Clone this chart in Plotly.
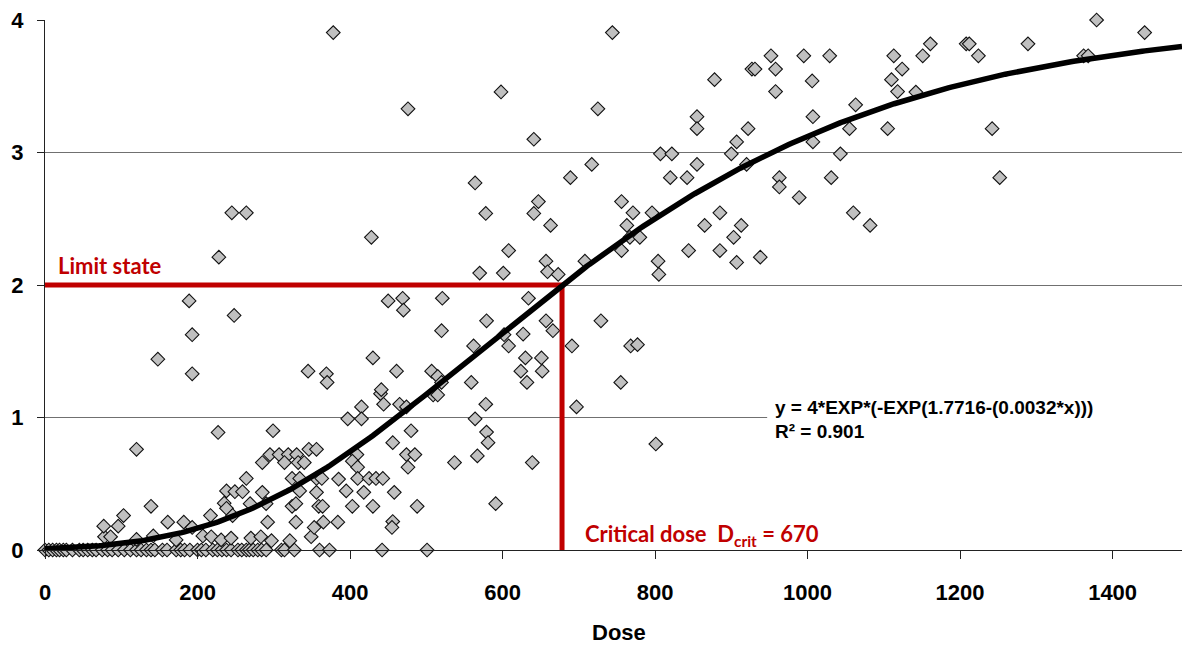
import numpy as np
import plotly.graph_objects as go

# ---- observed data (Dose, response) ----
zero_x = [0, 5, 10, 15, 19, 24, 28, 36, 45, 50, 56, 62, 67, 75, 82, 88, 96, 104, 112, 120,
          126, 133, 139, 144, 154, 160, 172, 178, 183, 190, 200, 205, 211, 220, 226, 232, 238,
          244, 253, 258, 264, 268, 273, 279, 284, 290, 310, 314, 327, 360, 373, 442, 501]
zero_y = [0.0] * len(zero_x)

low_x = [78, 86, 120, 142, 172, 207, 218, 231, 244, 270, 283, 297, 321, 349]
low_y = [0.10, 0.10, 0.08, 0.106, 0.076, 0.106, 0.10, 0.076, 0.09, 0.09, 0.10, 0.07, 0.07, 0.10]

pts_a_x = [227, 120, 238, 235, 238, 139, 103, 77, 96, 161, 182, 193, 217,
           440, 444, 415, 465, 474, 397, 415, 480, 299, 456, 346, 356, 295, 307, 319, 330,
           285, 314, 332, 340, 474, 485, 409, 403, 410, 264, 324, 334, 356, 363, 385, 410,
           425, 434, 443, 249, 259, 285, 334, 356, 395, 418, 458, 269, 290, 324, 329, 359,
           364, 403, 430, 246, 292, 329, 365, 384, 456, 455, 353]
pts_a_y = [0.887, 0.76, 0.446, 0.353, 0.315, 0.33, 0.26, 0.18, 0.18, 0.21, 0.21, 0.17, 0.26,
           1.18, 1.10, 1.08, 1.10, 1.08, 0.99, 0.99, 0.90, 0.90, 0.81, 0.76, 0.76, 0.72, 0.72, 0.72, 0.72,
           0.66, 0.66, 0.66, 0.66, 0.72, 0.72, 0.72, 0.67, 0.625, 0.54, 0.54, 0.54, 0.54, 0.54, 0.535, 0.54,
           0.54, 0.54, 0.54, 0.44, 0.44, 0.435, 0.446, 0.435, 0.446, 0.435, 0.435, 0.35, 0.35, 0.33, 0.35, 0.33,
           0.33, 0.33, 0.33, 0.26, 0.21, 0.21, 0.21, 0.21, 0.215, 0.17, 0.17]

pts_b_x = [578, 697, 564, 579, 581, 567, 537, 639, 476, 488, 591, 509, 515,
           245, 264, 428, 228, 450, 469, 470, 248, 430, 345, 461, 369, 370, 441, 189, 193, 148, 193,
           647, 578, 641, 663, 608, 657, 708, 659, 673, 570, 601, 521, 634, 579, 657, 666, 520, 602,
           627, 562, 608, 691, 630, 651, 624, 652, 507, 515, 520, 559, 632]
pts_b_y = [1.10, 1.08, 0.99, 0.89, 0.81, 0.71, 0.66, 0.66, 0.625, 0.33, 0.35, 1.17, 1.17,
           2.545, 2.545, 2.36, 2.21, 1.88, 1.90, 1.81, 1.77, 1.45, 1.35, 1.35, 1.33, 1.265, 1.21, 1.88, 1.625, 1.44, 1.33,
           2.63, 2.54, 2.54, 2.45, 2.26, 2.18, 2.18, 2.10, 2.08, 2.09, 2.09, 1.90, 1.90, 1.73, 1.73, 1.655, 1.655, 1.625,
           1.63, 1.54, 1.54, 1.54, 1.45, 1.45, 1.35, 1.35, 1.35, 1.31, 1.265, 1.265, 1.265]

pts_c_x = [989, 756, 771, 796, 885, 1060, 763, 865, 913, 1082, 767, 780, 903, 756, 844, 885, 804, 907,
           938, 805, 729, 768, 777, 755, 801,
           378, 744, 598, 476, 725, 641, 717, 689, 564, 952, 995, 1029, 1113, 927, 931, 958, 878, 1006,
           1110, 958, 1118, 855, 855, 1007, 1063, 922, 1055, 1105, 907, 1007, 807, 822, 900, 1043, 920,
           855, 820, 842, 963, 1031, 963, 1161, 1151, 1208, 1212, 1224, 1289, 1379, 1442, 1362, 1368,
           1124, 1142, 1242, 1252]
pts_c_y = [2.66, 2.63, 2.545, 2.545, 2.545, 2.545, 2.45, 2.45, 2.45, 2.45, 2.36, 2.36, 2.36, 2.26, 2.26, 2.26, 2.18, 2.17,
           2.21, 2.08, 1.73, 1.54, 1.55, 1.265, 0.80,
           3.905, 3.905, 3.457, 3.33, 3.33, 3.10, 2.91, 2.81, 2.77, 3.73, 3.73, 3.73, 3.73, 3.63, 3.63, 3.63, 3.55, 3.54,
           3.55, 3.46, 3.46, 3.27, 3.18, 3.27, 3.36, 3.18, 3.18, 3.18, 3.08, 3.08, 2.99, 2.99, 2.99, 2.99, 2.91,
           2.91, 2.81, 2.81, 2.81, 2.81, 2.74, 3.82, 3.73, 3.82, 3.82, 3.73, 3.82, 4.0, 3.905, 3.73, 3.73,
           3.63, 3.456, 3.18, 2.81]

dose = zero_x + low_x + pts_a_x + pts_b_x + pts_c_x
response = zero_y + low_y + pts_a_y + pts_b_y + pts_c_y

# Gompertz trend (as drawn)
CURVE_K = 4.0
CURVE_A = 1.8031
CURVE_B = 0.0032
X_MAX = 1491

LIMIT_STATE = 2.0
D_CRIT_LINE = 678

x_tick_vals = [0, 200, 400, 600, 800, 1000, 1200, 1400]
y_tick_vals = [0, 1, 2, 3, 4]

RED = "#C00000"
ARIAL = "Liberation Sans"
CALIBRI = "Lato"

xc = np.linspace(0, X_MAX, 400)
yc = CURVE_K * np.exp(-np.exp(CURVE_A - CURVE_B * xc))

fig = go.Figure()

fig.add_trace(go.Scatter(
    x=dose, y=response, mode="markers",
    marker=dict(symbol="diamond", size=10.5, color="#C0C0C0",
                line=dict(color="#111111", width=1.1)),
    cliponaxis=False, showlegend=False, hoverinfo="x+y"))

fig.add_trace(go.Scatter(
    x=[0, D_CRIT_LINE, D_CRIT_LINE], y=[LIMIT_STATE, LIMIT_STATE, 0],
    mode="lines", line=dict(color=RED, width=5), showlegend=False, hoverinfo="skip"))

fig.add_trace(go.Scatter(
    x=xc, y=yc, mode="lines", line=dict(color="black", width=5.5),
    showlegend=False, hoverinfo="skip"))

# white box behind the equation (hides the gridline there)
fig.add_shape(type="rect", xref="x", yref="y", x0=947, x1=X_MAX, y0=0.84, y1=1.18,
              fillcolor="white", line=dict(width=0), layer="above")

fig.add_annotation(x=15, y=2.147, xref="x", yref="y", text="Limit state", showarrow=False,
                   xanchor="left", yanchor="middle",
                   font=dict(family=CALIBRI, size=22, color=RED, weight="bold"))
fig.add_annotation(x=705, y=0.113, xref="x", yref="y",
                   text="Critical dose  D<sub>crit</sub> = 670", showarrow=False,
                   xanchor="left", yanchor="middle",
                   font=dict(family=CALIBRI, size=22, color=RED, weight="bold"))
fig.add_annotation(x=954, y=1.073, xref="x", yref="y",
                   text="y = 4*EXP*(-EXP(1.7716-(0.0032*x)))", showarrow=False,
                   xanchor="left", yanchor="middle",
                   font=dict(family=ARIAL, size=19, color="black", weight="bold"))
fig.add_annotation(x=954, y=0.892, xref="x", yref="y",
                   text="R² = 0.901", showarrow=False,
                   xanchor="left", yanchor="middle",
                   font=dict(family=ARIAL, size=19, color="black", weight="bold"))
fig.add_annotation(x=753, y=-0.1566, xref="x", yref="paper", text="Dose", showarrow=False,
                   xanchor="center", yanchor="middle",
                   font=dict(family=ARIAL, size=22, color="black", weight="bold"))

fig.update_xaxes(range=[0, X_MAX], tickvals=x_tick_vals, ticktext=[str(v) for v in x_tick_vals],
                 showgrid=False, zeroline=False, showline=True, linecolor="#222", linewidth=1,
                 ticks="outside", ticklen=8, tickcolor="#222", tickwidth=1,
                 ticklabelstandoff=15, automargin=False,
                 tickfont=dict(family=ARIAL, size=22, color="black", weight="bold"))
fig.update_yaxes(range=[0, 4], tickvals=y_tick_vals, ticktext=[str(v) for v in y_tick_vals],
                 showgrid=True, gridcolor="#707070", gridwidth=1, zeroline=False,
                 showline=True, linecolor="#222", linewidth=1,
                 ticks="outside", ticklen=7, tickcolor="#222", tickwidth=1,
                 ticklabelstandoff=9, automargin=False,
                 tickfont=dict(family=ARIAL, size=22, color="black", weight="bold"))

fig.update_layout(width=1182, height=645, margin=dict(l=45, r=0, t=20, b=95),
                  paper_bgcolor="white", plot_bgcolor="white", showlegend=False)

fig.write_html("out.html", config={"displayModeBar": False},
               post_script="document.body.style.margin='0px';document.body.style.padding='0px';")
